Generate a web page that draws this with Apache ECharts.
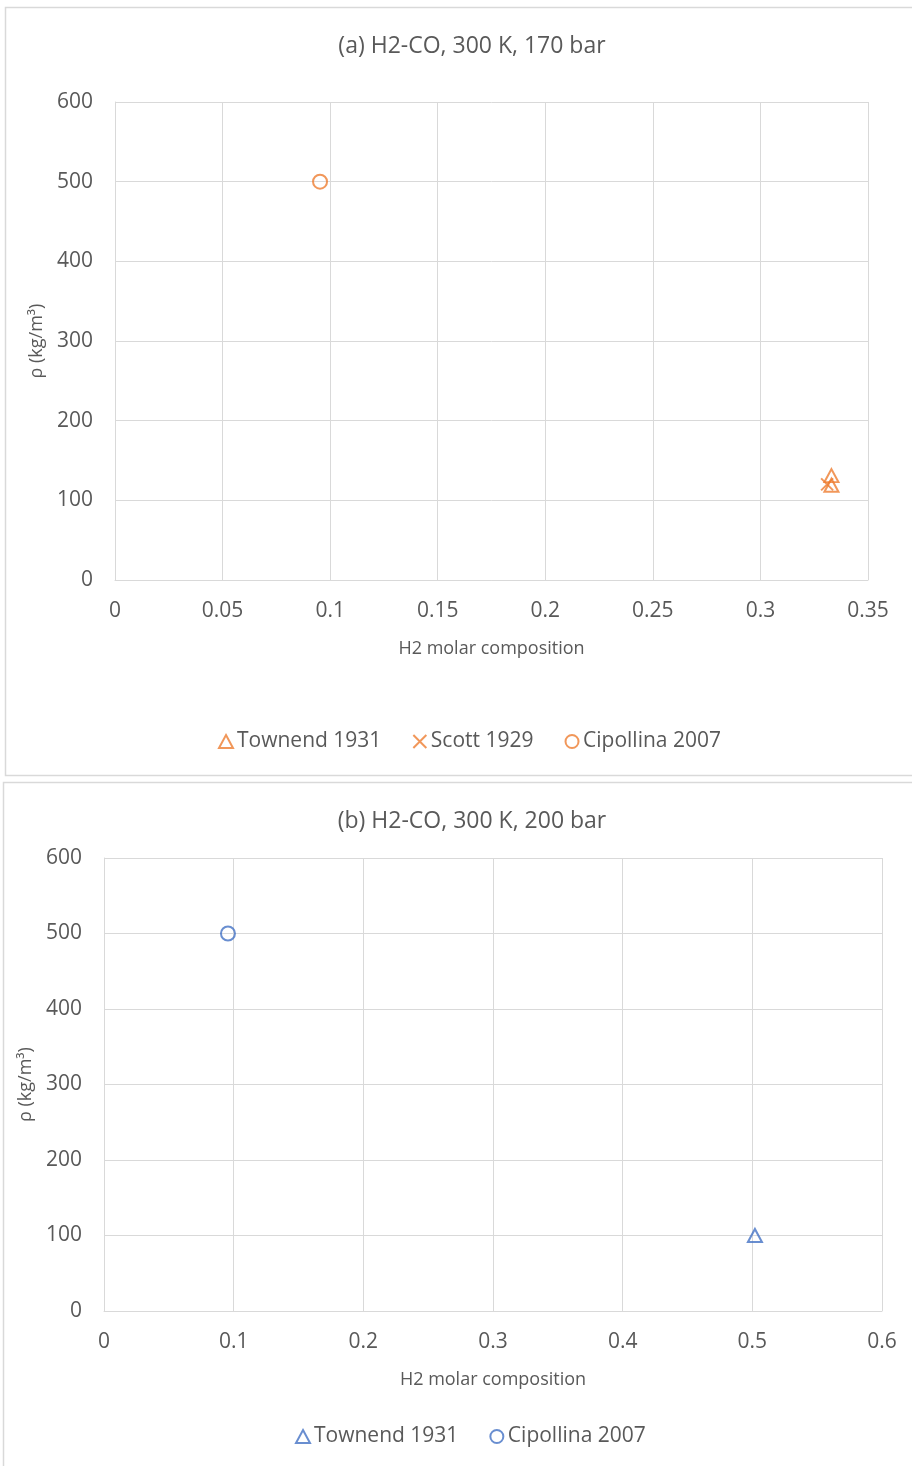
<!DOCTYPE html>
<html>
<head>
<meta charset="utf-8">
<script src="https://cdn.jsdelivr.net/npm/echarts@6/dist/echarts.min.js"></script>
<style>
  html, body { margin: 0; padding: 0; background: #fff; overflow: hidden; }
  #chart { width: 912px; height: 1466px; }
</style>
</head>
<body>
<div id="chart"></div>
<script>
// Panel (a): H2-CO at 300 K, 170 bar  — [H2 molar fraction, density kg/m3]
const townendA = [[0.333, 131], [0.333, 119]];
const scottA = [[0.331, 120]];
const cipollinaA = [[0.0953, 500]];

// Panel (b): H2-CO at 300 K, 200 bar
const townendB = [[0.502, 100]];
const cipollinaB = [[0.0956, 500]];

const xTicksA = { min: 0, max: 0.35, interval: 0.05 };
const xTicksB = { min: 0, max: 0.6, interval: 0.1 };
const yTicks = { min: 0, max: 600, interval: 100 };

const titleA = '(a) H2-CO, 300 K, 170 bar';
const titleB = '(b) H2-CO, 300 K, 200 bar';
const xName = 'H2 molar composition';
const yName = 'ρ (kg/m³)';

const ORANGE = '#ED7D31';
const BLUE = '#4472C4';
const TEXT = '#595959';
const GRID = '#d9d9d9';
const FONT = 'Open Sans';

const crossPath = 'path://M0,0L10,10M10,0L0,10';

function xAxis(gridIndex, ticks, nameGap) {
  return {
    gridIndex, type: 'value', min: ticks.min, max: ticks.max, interval: ticks.interval,
    name: xName, nameLocation: 'middle', nameGap,
    nameTextStyle: { color: TEXT, fontSize: 18, fontFamily: FONT },
    axisLine: { show: true, lineStyle: { color: GRID } },
    axisTick: { show: false },
    axisLabel: { color: TEXT, fontSize: 21, fontFamily: FONT, margin: 21 },
    splitLine: { show: true, lineStyle: { color: GRID, width: 1 } }
  };
}
function yAxis(gridIndex, nameGap) {
  return {
    gridIndex, type: 'value', min: yTicks.min, max: yTicks.max, interval: yTicks.interval,
    name: yName, nameLocation: 'middle', nameGap,
    nameTextStyle: { color: TEXT, fontSize: 18, fontFamily: FONT },
    axisLine: { show: true, lineStyle: { color: GRID } },
    axisTick: { show: false },
    axisLabel: { color: TEXT, fontSize: 21, fontFamily: FONT, margin: 22, padding: [3, 0, 0, 0] },
    splitLine: { show: true, lineStyle: { color: GRID, width: 1 } }
  };
}
function hollow(color) {
  return { color: 'rgba(255,255,255,0)', borderColor: color, borderWidth: 2 };
}
function legendItem(name, icon, color) {
  return { name, icon, itemStyle: { color: 'rgba(255,255,255,0)', borderColor: color, borderWidth: 2 } };
}

const chart = echarts.init(document.getElementById('chart'), null, { renderer: 'canvas' });
chart.setOption({
  animation: false,
  backgroundColor: '#fff',
  textStyle: { fontFamily: FONT },
  graphic: [
    { type: 'rect', shape: { x: 5.5, y: 7.5, width: 930, height: 768 },
      style: { fill: 'none', stroke: GRID, lineWidth: 1.5 }, silent: true },
    { type: 'rect', shape: { x: 3.5, y: 782.5, width: 930, height: 720 },
      style: { fill: 'none', stroke: GRID, lineWidth: 1.5 }, silent: true }
  ],
  title: [
    { text: titleA, left: 467, top: 30, textAlign: 'center',
      textStyle: { color: TEXT, fontSize: 23, fontWeight: 'normal', fontFamily: FONT } },
    { text: titleB, left: 467, top: 805, textAlign: 'center',
      textStyle: { color: TEXT, fontSize: 23, fontWeight: 'normal', fontFamily: FONT } }
  ],
  legend: [
    { left: 213, top: 726, itemWidth: 14, itemHeight: 13, itemGap: 31,
      textStyle: { color: TEXT, fontSize: 21, fontFamily: FONT, padding: [0, 0, 0, -1] },
      data: [legendItem('Townend 1931', 'triangle', ORANGE),
             legendItem('Scott 1929', crossPath, ORANGE),
             legendItem('Cipollina 2007', 'circle', ORANGE)] },
    { left: 290, top: 1421, itemWidth: 14, itemHeight: 13, itemGap: 31,
      textStyle: { color: TEXT, fontSize: 21, fontFamily: FONT, padding: [0, 0, 0, -1] },
      data: [legendItem('Townend 1931 ', 'triangle', BLUE),
             legendItem('Cipollina 2007 ', 'circle', BLUE)],
      formatter: n => n.trim() }
  ],
  grid: [
    { left: 115, top: 102, width: 753, height: 478, containLabel: false },
    { left: 104, top: 858, width: 778, height: 453, containLabel: false }
  ],
  xAxis: [xAxis(0, xTicksA, 60), xAxis(1, xTicksB, 60)],
  yAxis: [yAxis(0, 69), yAxis(1, 67)],
  series: [
    { name: 'Townend 1931', type: 'scatter', xAxisIndex: 0, yAxisIndex: 0,
      symbol: 'triangle', symbolSize: [14, 13], data: townendA, itemStyle: hollow(ORANGE) },
    { name: 'Scott 1929', type: 'scatter', xAxisIndex: 0, yAxisIndex: 0,
      symbol: crossPath, symbolSize: 12, data: scottA, itemStyle: hollow(ORANGE) },
    { name: 'Cipollina 2007', type: 'scatter', xAxisIndex: 0, yAxisIndex: 0,
      symbol: 'circle', symbolSize: 14, data: cipollinaA, itemStyle: hollow(ORANGE) },
    { name: 'Townend 1931 ', type: 'scatter', xAxisIndex: 1, yAxisIndex: 1,
      symbol: 'triangle', symbolSize: [14, 13], data: townendB, itemStyle: hollow(BLUE) },
    { name: 'Cipollina 2007 ', type: 'scatter', xAxisIndex: 1, yAxisIndex: 1,
      symbol: 'circle', symbolSize: 14, data: cipollinaB, itemStyle: hollow(BLUE) }
  ]
});
</script>
</body>
</html>
